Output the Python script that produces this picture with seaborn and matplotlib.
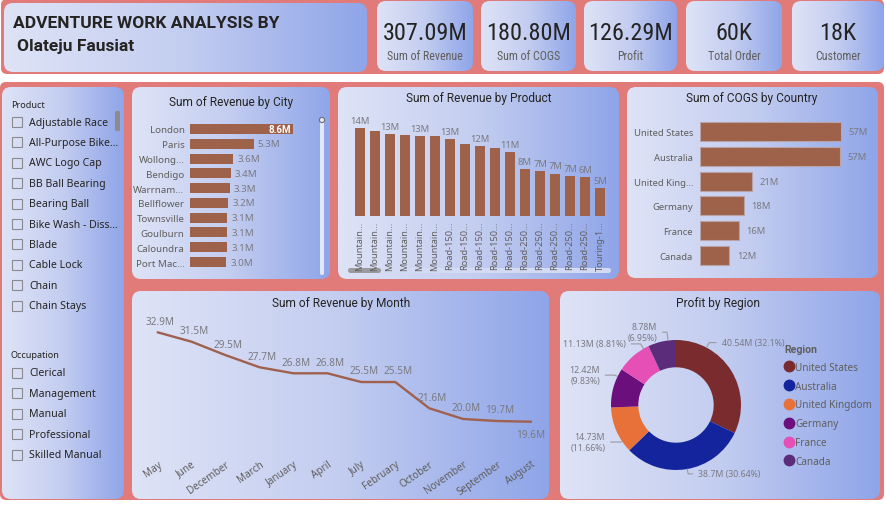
import matplotlib
matplotlib.use('Agg')
import matplotlib.pyplot as plt
import seaborn as sns
import pandas as pd
import numpy as np
from matplotlib.patches import FancyBboxPatch, Rectangle, Circle
from matplotlib.colors import LinearSegmentedColormap
from matplotlib.lines import Line2D

# ---- data ----
kpi_values = ['307.09M', '180.80M', '126.29M', '60K', '18K']
kpi_labels = ['Sum of Revenue', 'Sum of COGS', 'Profit', 'Total Order', 'Customer']

cities = ['London', 'Paris', 'Wollong...', 'Bendigo', 'Warrnam...', 'Bellflower',
          'Townsville', 'Goulburn', 'Caloundra', 'Port Mac...']
city_revenue = [8.6, 5.3, 3.6, 3.4, 3.3, 3.2, 3.1, 3.1, 3.1, 3.0]

products = ['Mountain...'] * 6 + ['Road-150...'] * 5 + ['Road-250...'] * 5 + ['Touring-1...']
product_revenue = [14.45, 14.0, 13.4, 13.25, 13.2, 13.2, 12.7, 11.8, 11.55, 11.2,
                   10.55, 7.7, 7.4, 7.0, 6.65, 6.4, 4.6]
product_labelled = [0, 2, 4, 6, 8, 10, 11, 12, 13, 14, 15, 16]

countries = ['United States', 'Australia', 'United King...', 'Germany', 'France', 'Canada']
country_cogs = [57.0, 56.6, 21.0, 17.7, 15.8, 11.9]

months = ['May', 'June', 'December', 'March', 'January', 'April', 'July', 'February',
          'October', 'November', 'September', 'August']
month_revenue = [32.9, 31.5, 29.5, 27.7, 26.8, 26.8, 25.5, 25.5, 21.6, 20.0, 19.7, 19.6]

regions = ['United States', 'Australia', 'United Kingdom', 'Germany', 'France', 'Canada']
region_profit = [40.54, 38.7, 14.73, 12.42, 11.13, 8.78]

product_items = ['Adjustable Race', 'All-Purpose Bike...', 'AWC Logo Cap', 'BB Ball Bearing',
                 'Bearing Ball', 'Bike Wash - Diss...', 'Blade', 'Cable Lock', 'Chain', 'Chain Stays']
occupation_items = ['Clerical', 'Management', 'Manual', 'Professional', 'Skilled Manual']

# ---- style ----
RED = '#E07B79'
BROWN = '#9E6149'
DARK = '#252423'
GREY = '#605E5C'
LABEL = '#7A7A80'
region_colors = ['#7A2B2E', '#14249C', '#E8713A', '#6A0F7C', '#E54FB6', '#5B2C7A']
panel_cmap = LinearSegmentedColormap.from_list('panel', ['#DEE3F6', '#C3CDF0', '#8FA5E9'])

sns.set_style('white')
plt.rcParams['font.family'] = ['Noto Sans', 'DejaVu Sans']
TITLE_FONT = ['Roboto', 'DejaVu Sans']
BOLD_FONT = ['Roboto', 'DejaVu Sans']
KPI_FONT = ['Roboto Condensed', 'Roboto', 'DejaVu Sans']

W, H = 887, 506
fig = plt.figure(figsize=(W / 100, H / 100), dpi=100)
fig.patch.set_facecolor('white')

bg = fig.add_axes([0, 0, 1, 1])
bg.axis('off')
grad = np.linspace(0, 1, 256).reshape(1, -1)


def rect(x, y, w, h):
    return [x / W, 1 - (y + h) / H, w / W, h / H]


def panel(x, y, w, h, r=9):
    patch = FancyBboxPatch((x, y), w, h, boxstyle=f'round,pad=0,rounding_size={r}',
                           fc='none', ec='none', transform=bg.transData)
    bg.add_patch(patch)
    im = bg.imshow(grad, extent=[x, x + w, y + h, y], cmap=panel_cmap, aspect='auto',
                   interpolation='bilinear', zorder=2)
    im.set_clip_path(patch)


def chart_axes(x, y, w, h):
    ax = fig.add_axes(rect(x, y, w, h))
    ax.set_facecolor('none')
    sns.despine(ax=ax, left=True, bottom=True)
    ax.tick_params(length=0)
    return ax


# red backgrounds
bg.add_patch(FancyBboxPatch((1, 0), 883, 75, boxstyle='round,pad=0,rounding_size=6',
                            fc=RED, ec='none', zorder=1))
bg.add_patch(FancyBboxPatch((0, 83), 884, 418, boxstyle='round,pad=0,rounding_size=6',
                            fc=RED, ec='none', zorder=1))

# panels
panel(4, 4, 363, 69)
kpi_x = [377, 481, 584, 686, 792]
kpi_w = [96, 95, 93, 96, 92]
for x, w in zip(kpi_x, kpi_w):
    panel(x, 2, w, 70)
panel(2, 88, 122, 412)
panel(132, 88, 198, 192)
panel(338, 88, 281, 192)
panel(627, 88, 251, 191)
panel(132, 292, 417, 208)
panel(560, 292, 320, 208)

bg.set_xlim(0, W)
bg.set_ylim(H, 0)

# header text
bg.text(13, 23, 'ADVENTURE WORK ANALYSIS BY', fontsize=12.5, fontweight='bold', color=DARK,
        va='center', family=BOLD_FONT, zorder=5)
bg.text(17, 46, 'Olateju Fausiat', fontsize=12.5, fontweight='bold', color=DARK,
        va='center', family=BOLD_FONT, zorder=5)
for x, w, v, lab in zip(kpi_x, kpi_w, kpi_values, kpi_labels):
    bg.text(x + w / 2, 33, v, fontsize=17.5, color=DARK, ha='center', va='center',
            family=KPI_FONT, zorder=5)
    bg.text(x + w / 2, 56, lab, fontsize=8.6, color=GREY, ha='center', va='center',
            family=KPI_FONT, zorder=5)

# slicers
bg.text(11, 105, 'Product', fontsize=6.5, color=DARK, va='center', zorder=5)
for i, item in enumerate(product_items):
    yy = 123 + i * 20.4
    bg.add_patch(Rectangle((12, yy - 5), 10, 10, fc='none', ec='#8A8A90', lw=0.8, zorder=5))
    bg.text(29, yy, item, fontsize=7.6, color=DARK, va='center', zorder=5)
bg.add_patch(FancyBboxPatch((115, 112), 5, 20, boxstyle='round,pad=0,rounding_size=1.5',
                            fc='#8C8C8C', ec='none', zorder=5))
bg.text(11, 356, 'Occupation', fontsize=6.5, color=DARK, va='center', zorder=5)
for i, item in enumerate(occupation_items):
    yy = 374 + i * 20.4
    bg.add_patch(Rectangle((12, yy - 5), 10, 10, fc='none', ec='#8A8A90', lw=0.8, zorder=5))
    bg.text(29, yy, item, fontsize=7.6, color=DARK, va='center', zorder=5)

# chart titles
for tx, ty, t in [(231, 102, 'Sum of Revenue by City'), (479, 98, 'Sum of Revenue by Product'),
                  (752, 98, 'Sum of COGS by Country'), (341, 304, 'Sum of Revenue by Month'),
                  (718, 304, 'Profit by Region')]:
    bg.text(tx, ty, t, fontsize=8.6, color=DARK, ha='center', va='center', family=TITLE_FONT, zorder=5)

# scrollbars
bg.add_patch(FancyBboxPatch((320, 120), 4, 156, boxstyle='round,pad=0,rounding_size=2',
                            fc='#E4E8F6', ec='none', zorder=5))
bg.add_patch(Circle((322, 121), 2.6, fc='#E4E8F6', ec='#707070', lw=0.8, zorder=6))
bg.add_patch(FancyBboxPatch((348, 269), 263, 5, boxstyle='round,pad=0,rounding_size=2.5',
                            fc='#D3DAF3', ec='none', zorder=5))
bg.add_patch(FancyBboxPatch((348, 269), 33, 5, boxstyle='round,pad=0,rounding_size=2.5',
                            fc='#9A9AA0', ec='none', zorder=6))

# ---- Sum of Revenue by City ----
df_city = pd.DataFrame({'city': cities, 'revenue': city_revenue})
ax = chart_axes(190, 122.6, 114, 147.8)
sns.barplot(data=df_city, x='revenue', y='city', color=BROWN, saturation=1, width=0.68,
            edgecolor='none', linewidth=0, ax=ax)
ax.set_xlim(0, 9.5)
ax.set_ylim(9.5, -0.5)
ax.set_xticks([])
ax.set_xlabel('')
ax.set_ylabel('')
ax.tick_params(axis='y', length=0, pad=4, labelsize=7, labelcolor=GREY)
for i, v in enumerate(city_revenue):
    if i == 0:
        ax.text(v - 0.2, i, f'{v:.1f}M', ha='right', va='center', fontsize=7, color='white',
                fontweight='bold', family=BOLD_FONT)
    else:
        ax.text(v + 0.35, i, f'{v:.1f}M', ha='left', va='center', fontsize=7, color=LABEL)

# ---- Sum of Revenue by Product ----
df_prod = pd.DataFrame({'idx': range(len(products)), 'revenue': product_revenue})
ax = chart_axes(352.5, 119.5, 255, 97.8)
sns.barplot(data=df_prod, x='idx', y='revenue', color=BROWN, saturation=1, width=0.73,
            edgecolor='none', linewidth=0, ax=ax)
ax.set_xlim(-0.5, len(products) - 0.5)
ax.set_ylim(0, 16)
ax.set_yticks([])
ax.set_xticks(range(len(products)))
ax.set_xticklabels(products, rotation=90, fontsize=6.6, color=GREY)
ax.tick_params(axis='x', length=0, pad=3)
ax.set_xlabel('')
ax.set_ylabel('')
for i in product_labelled:
    v = product_revenue[i]
    ax.text(i, v + 0.5, f'{v:.0f}M', ha='center', va='bottom', fontsize=6.8, color=LABEL)

# ---- Sum of COGS by Country ----
df_country = pd.DataFrame({'country': countries, 'cogs': country_cogs})
ax = chart_axes(700, 120.3, 153, 148.2)
sns.barplot(data=df_country, x='cogs', y='country', color=BROWN, saturation=1, width=0.77,
            edgecolor='#B9A3A6', linewidth=0.8, ax=ax)
ax.set_xlim(0, 62)
ax.set_ylim(5.5, -0.5)
ax.set_xticks([])
ax.set_xlabel('')
ax.set_ylabel('')
ax.tick_params(axis='y', length=0, pad=5, labelsize=6.8, labelcolor=GREY)
for i, v in enumerate(country_cogs):
    ax.text(v + 3, i, f'{v:.0f}M', ha='left', va='center', fontsize=6.8, color=LABEL)

# ---- Sum of Revenue by Month ----
df_month = pd.DataFrame({'pos': range(len(months)), 'revenue': month_revenue})
ax = chart_axes(140.7, 319.2, 407.3, 134.4)
sns.lineplot(data=df_month, x='pos', y='revenue', color='#A0604E', linewidth=1.7, sort=False, ax=ax)
ax.set_xlim(-0.5, len(months) - 0.5)
ax.set_ylim(15, 35)
ax.set_yticks([])
ax.set_xticks(range(len(months)))
ax.set_xticklabels(months, rotation=35, ha='right', rotation_mode='anchor', fontsize=7.2, color=GREY)
ax.tick_params(axis='x', length=0, pad=4)
ax.set_xlabel('')
ax.set_ylabel('')
for i, v in enumerate(month_revenue):
    if i == len(months) - 1:
        ax.annotate(f'{v:.1f}M', (i, v), xytext=(0, -5), textcoords='offset points',
                    ha='center', va='top', fontsize=7.2, color=LABEL)
    else:
        ax.annotate(f'{v:.1f}M', (i, v), xytext=(2, 4), textcoords='offset points',
                    ha='center', va='bottom', fontsize=7.2, color=LABEL)

# ---- Profit by Region (donut) ----
ax = fig.add_axes(rect(676 - 130, 406 - 130, 260, 260))
ax.set_facecolor('none')
ax.axis('off')
wedges, _ = ax.pie(region_profit, colors=region_colors, startangle=90, counterclock=False,
                   wedgeprops=dict(width=0.42, edgecolor='none'))
ax.set_xlim(-2, 2)
ax.set_ylim(-2, 2)
ax.set_aspect('equal')
total = sum(region_profit)
# text anchor (x, y), alignment, separator, edge angle of the leader line
donut_layout = [(0.70, 0.96, 'left', ' ', 62), (0.34, -1.06, 'left', ' ', -80),
                (-1.09, -0.57, 'right', '\n', -146), (-1.17, 0.46, 'right', '\n', 154),
                (-0.77, 0.94, 'right', ' ', 120), (-0.29, 1.12, 'right', '\n', 97)]
for v, (tx, ty, ha, sep, ang) in zip(region_profit, donut_layout):
    pct = f'{v / total * 100:.2f}'.rstrip('0').rstrip('.')
    a = np.deg2rad(ang)
    ax.annotate(f'{v:g}M{sep}({pct}%)', xy=(np.cos(a), np.sin(a)), xytext=(tx, ty),
                ha=ha, va='center', fontsize=6.3, color=LABEL, multialignment=ha,
                arrowprops=dict(arrowstyle='-', color='#9A9AA0', lw=0.8, shrinkA=1.5, shrinkB=0,
                                connectionstyle=f'angle,angleA=0,angleB={ang}'))
handles = [Line2D([], [], marker='o', ls='', markersize=7.5, markerfacecolor=c, markeredgecolor=c)
           for c in region_colors]
leg = ax.legend(handles, regions, title='Region', loc='upper left', frameon=False,
                bbox_to_anchor=(780 / W, 1 - 341 / H), bbox_transform=fig.transFigure,
                fontsize=7.2, labelcolor=GREY, handletextpad=0.1, labelspacing=0.78,
                borderaxespad=0, handlelength=1.0)
leg.get_title().set_fontweight('bold')
leg.get_title().set_fontsize(7.6)
leg.get_title().set_color(GREY)
leg.get_title().set_family(BOLD_FONT)
leg._legend_box.align = 'left'

fig.savefig('out.png', dpi=100, facecolor='white')
